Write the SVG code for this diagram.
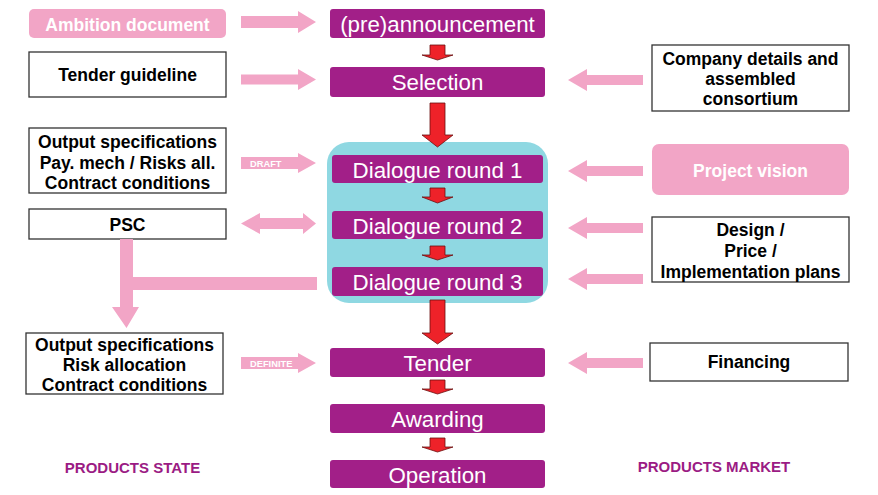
<svg xmlns="http://www.w3.org/2000/svg" width="878" height="495" viewBox="0 0 878 495">
<style>
.step{fill:#A21F88;}
.steptxt{font-family:"Liberation Sans",Arial,sans-serif;font-size:22.3px;fill:#fff;text-anchor:middle;}
.box{fill:#fff;stroke:#333;stroke-width:1.3;}
.pbox{fill:#F2A5C6;}
.btxt{font-family:"Liberation Sans",Arial,sans-serif;font-size:17.5px;font-weight:bold;fill:#000;text-anchor:middle;}
.wtxt{font-family:"Liberation Sans",Arial,sans-serif;font-size:17.5px;font-weight:bold;fill:#fff;text-anchor:middle;}
.pink{fill:#F2A5C6;}
.red{fill:#EE2229;stroke:#6b1010;stroke-width:0.8;}
.small{font-family:"Liberation Sans",Arial,sans-serif;font-size:9.3px;font-weight:bold;fill:#fff;}
.lbl{font-family:"Liberation Sans",Arial,sans-serif;font-size:15px;font-weight:bold;fill:#9B1B84;text-anchor:middle;}
</style>
<rect x="0" y="0" width="878" height="495" fill="#fff"/>
<g id="dialogue-group"><rect x="327" y="142" width="221" height="161" rx="22" fill="#8FD8E2"/></g>
<g id="n-announcement"><rect class="step" x="330" y="9" width="215" height="29" rx="3"/><text class="steptxt" x="437.5" y="32">(pre)announcement</text></g>
<g id="n-selection"><rect class="step" x="330" y="67" width="215" height="30" rx="3"/><text class="steptxt" x="437.5" y="90">Selection</text></g>
<g id="n-dr1"><rect class="step" x="332" y="155" width="211" height="28" rx="3"/><text class="steptxt" x="437.5" y="177.5">Dialogue round 1</text></g>
<g id="n-dr2"><rect class="step" x="332" y="211" width="211" height="28" rx="3"/><text class="steptxt" x="437.5" y="233.5">Dialogue round 2</text></g>
<g id="n-dr3"><rect class="step" x="332" y="267" width="211" height="29" rx="3"/><text class="steptxt" x="437.5" y="290">Dialogue round 3</text></g>
<g id="n-tender"><rect class="step" x="330" y="348" width="215" height="29" rx="3"/><text class="steptxt" x="437.5" y="370.5">Tender</text></g>
<g id="n-awarding"><rect class="step" x="330" y="404" width="215" height="29" rx="3"/><text class="steptxt" x="437.5" y="426.5">Awarding</text></g>
<g id="n-operation"><rect class="step" x="330" y="460" width="215" height="28" rx="3"/><text class="steptxt" x="437.5" y="482.5">Operation</text></g>

<g id="n-ambition"><rect class="pbox" x="29" y="9" width="197" height="29" rx="5"/><text class="wtxt" x="127.5" y="30.5">Ambition document</text></g>
<g id="n-guideline"><rect class="box" x="29" y="52" width="197" height="45"/><text class="btxt" x="127.5" y="81">Tender guideline</text></g>
<g id="n-outspec1"><rect class="box" x="29" y="128" width="197" height="65"/><text class="btxt" x="127.5" y="148">Output specifications</text><text class="btxt" x="127.5" y="168.5">Pay. mech / Risks all.</text><text class="btxt" x="127.5" y="189">Contract conditions</text></g>
<g id="n-psc"><rect class="box" x="29" y="209" width="197" height="30"/><text class="btxt" x="127.5" y="231">PSC</text></g>
<g id="n-outspec2"><rect class="box" x="26" y="333" width="197" height="61"/><text class="btxt" x="124.5" y="351">Output specifications</text><text class="btxt" x="124.5" y="371">Risk allocation</text><text class="btxt" x="124.5" y="390.5">Contract conditions</text></g>
<g id="n-company"><rect class="box" x="652" y="45" width="197" height="66"/><text class="btxt" x="750.5" y="65">Company details and</text><text class="btxt" x="750.5" y="85">assembled</text><text class="btxt" x="750.5" y="105">consortium</text></g>
<g id="n-vision"><rect class="pbox" x="652" y="144" width="197" height="51" rx="7"/><text class="wtxt" x="750.5" y="177">Project vision</text></g>
<g id="n-design"><rect class="box" x="652" y="217" width="197" height="65"/><text class="btxt" x="750.5" y="236">Design /</text><text class="btxt" x="750.5" y="257">Price /</text><text class="btxt" x="750.5" y="278">Implementation plans</text></g>
<g id="n-financing"><rect class="box" x="650" y="343" width="198" height="38"/><text class="btxt" x="749" y="368">Financing</text></g>
<g id="lbl-state"><text class="lbl" x="132.5" y="473">PRODUCTS STATE</text></g>
<g id="lbl-market"><text class="lbl" x="714" y="472">PRODUCTS MARKET</text></g>

<g id="connectors">
<polygon class="red" points="430,45 445,45 445,55 453,55 437.5,60 422,55 430,55"/>
<polygon class="red" points="430,103 445,103 445,135 453,135 437.5,147 422,135 430,135"/>
<polygon class="red" points="430,188 445,188 445,197 453,197 437.5,203 422,197 430,197"/>
<polygon class="red" points="430,246 445,246 445,255 453,255 437.5,260 422,255 430,255"/>
<polygon class="red" points="430,300 445,300 445,333 453,333 437.5,344 422,333 430,333"/>
<polygon class="red" points="430,380 445,380 445,389 453,389 437.5,394 422,389 430,389"/>
<polygon class="red" points="430,438 445,438 445,447 453,447 437.5,452 422,447 430,447"/>
<polygon class="pink" points="241,16 298,16 298,11 316,22 298,33 298,28 241,28"/>
<polygon class="pink" points="241,74.5 298,74.5 298,69 316,79.5 298,90 298,84.5 241,84.5"/>
<polygon class="pink" points="241,157 298,157 298,153 316,163 298,173 298,169 241,169"/>
<text class="small" x="250" y="166.5">DRAFT</text>
<polygon class="pink" points="241,223.5 260,213 260,218 303,218 303,213 316,223.5 303,234 303,229 260,229 260,234"/>
<path class="pink" d="M120,239 L120,307 L112,307 L126.5,328 L139,307 L133,307 L133,290 L317,290 L317,277 L133,277 L133,239 Z"/>
<polygon class="pink" points="241,357 298,357 298,353 316,363 298,373 298,369 241,369"/>
<text class="small" x="250" y="366.5">DEFINITE</text>
<polygon class="pink" points="643,75 587,75 587,69 568,80 587,91 587,85 643,85"/>
<polygon class="pink" points="643,166 587,166 587,160 568,171 587,182 587,176 643,176"/>
<polygon class="pink" points="643,223 587,223 587,217 568,228 587,239 587,233 643,233"/>
<polygon class="pink" points="643,274 587,274 587,268 568,279 587,290 587,284 643,284"/>
<polygon class="pink" points="643,358 587,358 587,352 568,363 587,374 587,368 643,368"/>
</g>
</svg>
